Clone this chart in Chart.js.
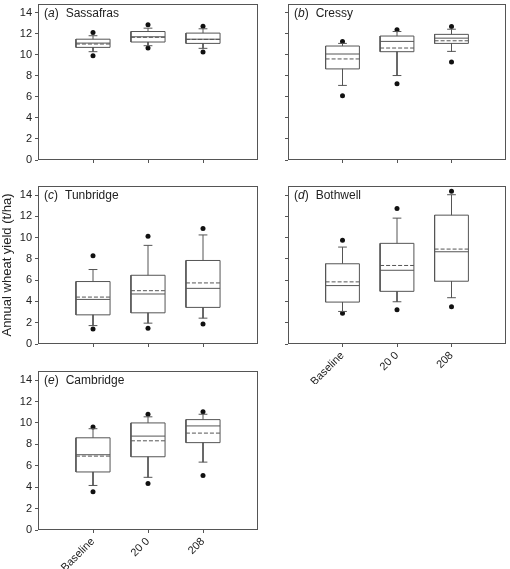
<!DOCTYPE html>
<html lang="en">
<head>
<meta charset="UTF-8">
<title>Annual wheat yield</title>
<script src="https://cdn.jsdelivr.net/npm/chart.js"></script>
<style>
  body { margin: 0; background: #fff; overflow: hidden; }
  .panel { position: absolute; }
</style>
</head>
<body>
<div class="panel" style="left:0;top:0"><canvas id="pa" width="262" height="166"></canvas></div>
<div class="panel" style="left:250px;top:0"><canvas id="pb" width="260" height="166"></canvas></div>
<div class="panel" style="left:0;top:182px"><canvas id="pc" width="262" height="168"></canvas></div>
<div class="panel" style="left:250px;top:182px"><canvas id="pd" width="260" height="202"></canvas></div>
<div class="panel" style="left:0;top:367px"><canvas id="pe" width="262" height="202"></canvas></div>

<script>
// data (t/ha), one row per site, columns = scenarios
const groups = ['Baseline', '20 0', '208'];
const sites = ['Sassafras', 'Cressy', 'Tunbridge', 'Bothwell', 'Cambridge'];
const letters = ['a', 'b', 'c', 'd', 'e'];

const q1 = [[10.72, 11.23, 11.10], [8.67, 10.31, 11.10], [2.74, 2.93, 3.44], [3.94, 4.95, 5.90], [5.42, 6.84, 8.16]];
const q3 = [[11.50, 12.23, 12.08], [10.85, 11.80, 11.96], [5.87, 6.46, 7.85], [7.54, 9.46, 12.11], [8.61, 10.00, 10.31]];
const medians = [[11.13, 11.73, 11.50], [10.09, 11.29, 11.60], [4.19, 4.70, 5.23], [5.49, 6.93, 8.67], [7.03, 8.77, 9.72]];
const means = [[11.04, 11.68, 11.48], [9.62, 10.66, 11.35], [4.41, 5.01, 5.74], [5.84, 7.38, 8.92], [6.90, 8.33, 9.05]];
const whiskLow = [[10.31, 10.88, 10.63], [7.10, 8.04, 10.34], [1.73, 1.96, 2.43], [3.06, 3.97, 4.35], [4.16, 4.92, 6.34]];
const whiskHigh = [[11.83, 12.55, 12.49], [11.10, 12.23, 12.45], [7.00, 9.27, 10.25], [9.11, 11.83, 14.03], [9.46, 10.57, 10.81]];
const outLow = [[9.93, 10.66, 10.28], [6.12, 7.25, 9.33], [1.42, 1.48, 1.89], [2.90, 3.22, 3.50], [3.57, 4.35, 5.08]];
const outHigh = [[12.14, 12.87, 12.74], [11.29, 12.39, 12.71], [8.30, 10.12, 10.85], [9.74, 12.74, 14.35], [9.62, 10.81, 11.04]];

const FONT = 'Liberation Sans, Arial, sans-serif';
const LINE = '#555';
const BOX_HALF = 0.31;
const CAP_HALF = 0.08;

// frame round the plot + panel label inside
const framePlugin = {
  id: 'frame',
  afterDraw(chart, args, opts) {
    const { ctx, chartArea: a } = chart;
    ctx.save();
    ctx.strokeStyle = '#555';
    ctx.lineWidth = 1;
    ctx.strokeRect(a.left + 0.5, a.top + 0.5, a.right - a.left - 1, a.bottom - a.top - 1);

    ctx.fillStyle = '#222';
    ctx.textBaseline = 'alphabetic';
    let x = a.left + 6, y = a.top + 13;
    ctx.font = '12px ' + FONT;
    ctx.fillText('(', x, y); x += ctx.measureText('(').width;
    ctx.font = 'italic 12px ' + FONT;
    ctx.fillText(opts.letter, x, y); x += ctx.measureText(opts.letter).width;
    ctx.font = '12px ' + FONT;
    ctx.fillText(')', x, y); x += ctx.measureText(')').width + 7;
    ctx.fillText(opts.site, x, y);
    ctx.restore();
  }
};

function lineSet(points, dash) {
  return {
    type: 'scatter', data: points, showLine: true, spanGaps: false,
    borderColor: LINE, borderWidth: 1, borderDash: dash || [],
    pointRadius: 0, tension: 0
  };
}

function noPad(s) {
  s.paddingTop = 0; s.paddingBottom = 0; s.paddingLeft = 0; s.paddingRight = 0;
}

function makePanel(id, k, showY, showX, xHeight, pad, yTitle) {
  const boxes = [], whiskers = [], meds = [], avgs = [], outs = [];
  for (let i = 0; i < groups.length; i++) {
    const x = i + 1;
    boxes.push({ x: x - BOX_HALF, y: q1[k][i] }, { x: x + BOX_HALF, y: q1[k][i] },
      { x: x + BOX_HALF, y: q3[k][i] }, { x: x - BOX_HALF, y: q3[k][i] },
      { x: x - BOX_HALF, y: q1[k][i] }, { x: x, y: null });
    whiskers.push({ x: x, y: q3[k][i] }, { x: x, y: whiskHigh[k][i] }, { x: x, y: null },
      { x: x - CAP_HALF, y: whiskHigh[k][i] }, { x: x + CAP_HALF, y: whiskHigh[k][i] }, { x: x, y: null },
      { x: x, y: q1[k][i] }, { x: x, y: whiskLow[k][i] }, { x: x, y: null },
      { x: x - CAP_HALF, y: whiskLow[k][i] }, { x: x + CAP_HALF, y: whiskLow[k][i] }, { x: x, y: null });
    meds.push({ x: x - BOX_HALF, y: medians[k][i] }, { x: x + BOX_HALF, y: medians[k][i] }, { x: x, y: null });
    avgs.push({ x: x - BOX_HALF, y: means[k][i] }, { x: x + BOX_HALF, y: means[k][i] }, { x: x, y: null });
    outs.push({ x: x, y: outLow[k][i] }, { x: x, y: outHigh[k][i] });
  }

  new Chart(document.getElementById(id), {
    type: 'scatter',
    data: {
      datasets: [
        lineSet(boxes),
        lineSet(whiskers),
        lineSet(meds),
        lineSet(avgs, [4, 2]),
        { type: 'scatter', data: outs, pointRadius: 2.5, pointBackgroundColor: '#111', pointBorderWidth: 0 }
      ]
    },
    options: {
      responsive: false,
      animation: false,
      layout: { padding: pad },
      plugins: {
        legend: { display: false },
        tooltip: { enabled: false },
        frame: { letter: letters[k], site: sites[k] }
      },
      scales: {
        x: {
          type: 'linear', min: 0, max: 4,
          afterBuildTicks: s => { s.ticks = [1, 2, 3].map(v => ({ value: v })); },
          afterFit: s => { s.height = xHeight; noPad(s); },
          grid: { drawOnChartArea: false, tickLength: 3, color: '#555' },
          border: { display: false },
          ticks: {
            display: showX, autoSkip: false, minRotation: 45, maxRotation: 45, padding: 2,
            color: '#222', font: { family: FONT, size: 11 },
            callback: v => groups[v - 1]
          }
        },
        y: {
          min: 0, max: 14.85,
          afterFit: s => { s.width = 38; noPad(s); },
          grid: { drawOnChartArea: false, tickLength: 3, color: '#555' },
          border: { display: false },
          title: {
            display: !!yTitle, text: yTitle || '', color: '#222',
            font: { family: FONT, size: 13 }, padding: { top: 0, bottom: 0 }
          },
          ticks: {
            stepSize: 2, includeBounds: false, padding: 3,
            color: '#222', font: { family: FONT, size: 11 },
            callback: v => showY ? v : ''
          }
        }
      }
    },
    plugins: [framePlugin]
  });
}

makePanel('pa', 0, true, false, 6, { top: 3, right: 3 });
makePanel('pb', 1, false, false, 6, { top: 3, right: 1 });
makePanel('pc', 2, true, false, 6, { top: 3, right: 3 }, 'Annual wheat yield (t/ha)');
makePanel('pd', 3, false, true, 40, { top: 3, right: 1 });
makePanel('pe', 4, true, true, 39, { top: 3, right: 3 });
</script>
</body>
</html>
